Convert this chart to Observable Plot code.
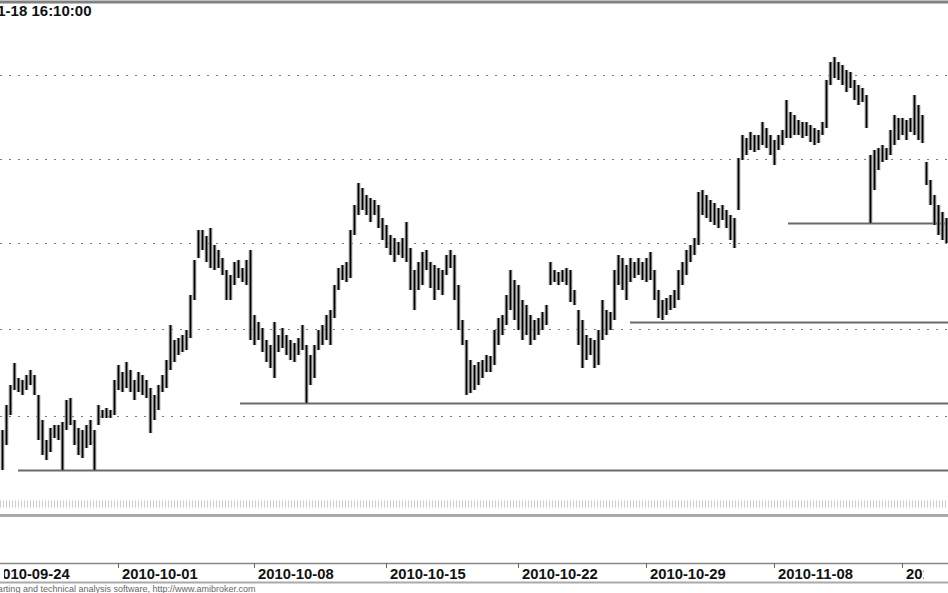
<!DOCTYPE html>
<html>
<head>
<meta charset="utf-8">
<script src="https://cdn.jsdelivr.net/npm/d3@7"></script>
<script src="https://cdn.jsdelivr.net/npm/@observablehq/plot@0.6"></script>
<style>
  html, body { margin: 0; padding: 0; background: #fff; }
  #chart svg { display: block; }
</style>
</head>
<body>
<div id="chart"></div>
<script>
// Bar highs and lows (price units), one bar per slot
const hi = [170,195,215,237,222,220,225,230,225,205,
  180,160,172,175,175,178,200,202,180,172,
  170,175,180,170,195,190,192,190,220,235,
  228,238,230,220,228,225,220,212,205,215,
  225,240,275,260,262,265,270,305,340,370,
  370,364,372,355,350,342,330,325,338,340,
  332,340,350,285,278,272,260,255,278,265,
  272,265,260,257,262,275,255,245,255,270,
  275,285,290,315,332,335,338,370,395,417,
  412,405,402,400,395,382,375,365,362,358,
  362,378,352,330,338,348,350,338,335,332,
  330,345,350,345,315,280,260,240,235,238,
  240,245,244,270,282,285,305,330,320,315,
  300,295,285,280,282,288,295,338,330,328,
  330,332,330,310,290,280,265,262,260,270,
  300,290,288,330,345,342,335,342,338,342,
  338,342,348,330,310,300,302,305,310,330,
  338,350,355,362,408,410,405,400,397,392,
  395,390,385,382,442,465,462,468,465,465,
  478,472,465,460,465,470,500,488,485,480,
  478,478,475,472,470,478,520,538,543,538,
  535,530,528,520,515,512,505,445,450,452,
  455,452,470,485,482,482,480,482,505,495,
  485,438,420,405,395,388,382];
const lo = [130,155,185,210,208,205,210,215,205,160,
  145,140,148,162,160,130,170,175,155,145,
  142,152,155,130,175,182,182,182,185,210,
  208,212,208,200,208,205,202,167,180,190,
  208,212,230,238,245,248,250,262,300,342,
  350,338,332,330,332,325,300,300,315,322,
  318,315,260,255,260,248,238,232,222,248,
  252,245,240,238,245,250,197,215,222,250,
  255,260,255,282,310,320,318,322,365,385,
  390,385,378,385,372,360,352,345,338,345,
  342,338,310,290,310,315,330,312,300,310,
  305,325,332,300,270,255,205,207,210,215,
  222,228,228,235,255,265,275,290,280,270,
  260,265,255,260,265,270,275,315,318,315,
  318,315,298,295,255,232,240,245,232,235,
  260,265,270,280,315,310,300,318,322,325,
  320,318,320,300,282,280,285,290,292,300,
  315,325,338,345,355,385,382,378,375,372,
  380,372,360,352,390,440,445,450,448,450,
  455,452,445,435,450,455,462,462,465,465,
  462,464,458,455,457,465,472,515,522,520,
  515,508,512,500,495,498,472,377,410,430,
  438,440,445,455,460,465,460,468,465,460,
  457,415,395,375,365,360,357];

// Horizontal grid levels
const gridValues = [525, 441, 357, 271, 184];
// Support lines: price level and first bar slot
const supportPrice = [130, 197, 278, 377];
const supportStart = [4, 59.5, 157, 196.5];
// X-axis ticks (bar slot) and labels
const tickIdx = [-3, 29, 63, 96, 129, 161, 193, 225];
const tickLabels = ["2010-09-24", "2010-10-01", "2010-10-08", "2010-10-15",
  "2010-10-22", "2010-10-29", "2010-11-08", "2010-11-15"];
const titleText = "2010-11-18 16:10:00";
const footerText = "AmiBroker - charting and technical analysis software, http://www.amibroker.com";

const bars = hi.map((h, i) => ({i, hi: h, lo: lo[i]}));
const lastSlot = hi.length - 0.5;
const supports = supportPrice.map((p, k) => ({p, x1: supportStart[k], x2: lastSlot}));
const ticks = tickIdx.map((t, k) => ({t, label: tickLabels[k]}));

const font = "'Liberation Sans', Arial, Helvetica, sans-serif";

const chart = Plot.plot({
  width: 948,
  height: 593,
  marginTop: 2,
  marginBottom: 78,
  marginLeft: 0,
  marginRight: 0,
  x: {domain: [-0.5, lastSlot], axis: null},
  y: {domain: [85, 598], axis: null},
  style: {fontFamily: font, background: "#fff"},
  marks: [
    Plot.ruleY(gridValues, {stroke: "#7c7c7c", strokeWidth: 1.2, strokeDasharray: "2,7"}),
    Plot.ruleY([96.5], {stroke: "#cccccc", strokeWidth: 7, strokeDasharray: "1,2"}),
    Plot.ruleY(supports, {y: "p", x1: "x1", x2: "x2", stroke: "#6a6a6a", strokeWidth: 1.8}),
    Plot.ruleX(bars, {x: "i", y1: "lo", y2: "hi", stroke: "#888", strokeWidth: 3.6}),
    Plot.ruleX(bars, {x: "i", y1: "lo", y2: "hi", stroke: "#000", strokeWidth: 1.4}),
    Plot.ruleY([85], {stroke: "#a8a8a8", strokeWidth: 3}),
    Plot.ruleY([598.5], {stroke: "#808080", strokeWidth: 3}),
    Plot.ruleY([37], {stroke: "#888", strokeWidth: 1.5}),
    Plot.ruleY([18], {stroke: "#aaa", strokeWidth: 2}),
    Plot.ruleX(ticks, {x: "t", y1: 37, y2: 32, stroke: "#666"}),
    Plot.text(ticks, {x: "t", y: 26, text: "label", dx: 3.5, textAnchor: "start",
      fontWeight: "bold", fontSize: 14.8, fill: "#111", fontFamily: font}),
    Plot.text([titleText], {text: d => d, frameAnchor: "top-left", dx: 91, dy: 2.5,
      textAnchor: "end", lineAnchor: "top", fontWeight: "bold", fontSize: 15, fill: "#111", fontFamily: font}),
    Plot.text([footerText], {text: d => d, frameAnchor: "bottom-left", dx: 255, dy: 76,
      textAnchor: "end", lineAnchor: "bottom", fontSize: 9, fill: "#666", fontFamily: font})
  ]
});

// The date strip is clipped before the right-hand price area, as in the original
const svg = d3.select(chart);
svg.append("defs").append("clipPath").attr("id", "date-strip-clip")
  .append("rect").attr("x", 0).attr("y", 0).attr("width", 920).attr("height", 593);
const labelGroup = svg.selectAll('g[aria-label="text"]').nodes()[0];
if (labelGroup) labelGroup.setAttribute("clip-path", "url(#date-strip-clip)");

document.getElementById("chart").appendChild(chart);
</script>
</body>
</html>
